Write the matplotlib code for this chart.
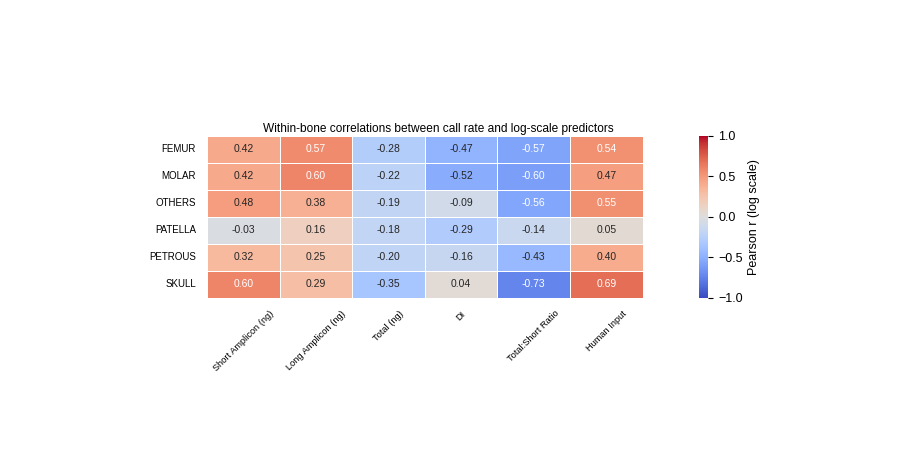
import matplotlib
matplotlib.use("Agg")
import matplotlib.pyplot as plt
import seaborn as sns
import pandas as pd

# bones (rows) and log-scale predictors (columns)
bones = ["FEMUR", "MOLAR", "OTHERS", "PATELLA", "PETROUS", "SKULL"]
predictors = ["Short Amplicon (ng)", "Long Amplicon (ng)", "Total (ng)", "DI",
              "Total:Short Ratio", "Human Input"]

femur = [0.42, 0.57, -0.28, -0.47, -0.57, 0.54]
molar = [0.42, 0.60, -0.22, -0.52, -0.60, 0.47]
others = [0.48, 0.38, -0.19, -0.09, -0.56, 0.55]
patella = [-0.03, 0.16, -0.18, -0.29, -0.14, 0.05]
petrous = [0.32, 0.25, -0.20, -0.16, -0.43, 0.40]
skull = [0.60, 0.29, -0.35, 0.04, -0.73, 0.69]

df = pd.DataFrame([femur, molar, others, patella, petrous, skull],
                  index=bones, columns=predictors)

plt.rcParams['font.family'] = ['Liberation Sans', 'DejaVu Sans']

fig = plt.figure(figsize=(9, 4.5), dpi=100)
ax = fig.add_axes([0.23, 0.338, 0.484, 0.36])
cax = fig.add_axes([0.777, 0.338, 0.01, 0.36])

sns.heatmap(df, ax=ax, cbar_ax=cax, cmap="coolwarm", vmin=-1, vmax=1,
            annot=True, fmt=".2f", annot_kws={"fontsize": 7.5},
            linewidths=0.5, linecolor="white",
            cbar_kws={"label": "Pearson r (log scale)"})

# text colour: white only on the strongest cells
for txt in ax.texts:
    v = float(txt.get_text())
    txt.set_color("white" if abs(v) >= 0.535 else "#262626")

ax.set_title("Within-bone correlations between call rate and log-scale predictors",
             fontsize=8.6, pad=3, x=0.53)
ax.set_xlabel("")
ax.set_ylabel("")
ax.tick_params(axis="both", length=0, pad=8)
ax.set_xticklabels(ax.get_xticklabels(), rotation=45, ha="center", fontsize=6.7)
ax.set_yticklabels(ax.get_yticklabels(), rotation=0, fontsize=7)

cax.tick_params(labelsize=9)
cax.set_ylabel("Pearson r (log scale)", fontsize=9)
cax.set_yticks([-1.0, -0.5, 0.0, 0.5, 1.0])
for s in cax.spines.values():
    s.set_visible(False)

fig.savefig("out.png", dpi=100)
